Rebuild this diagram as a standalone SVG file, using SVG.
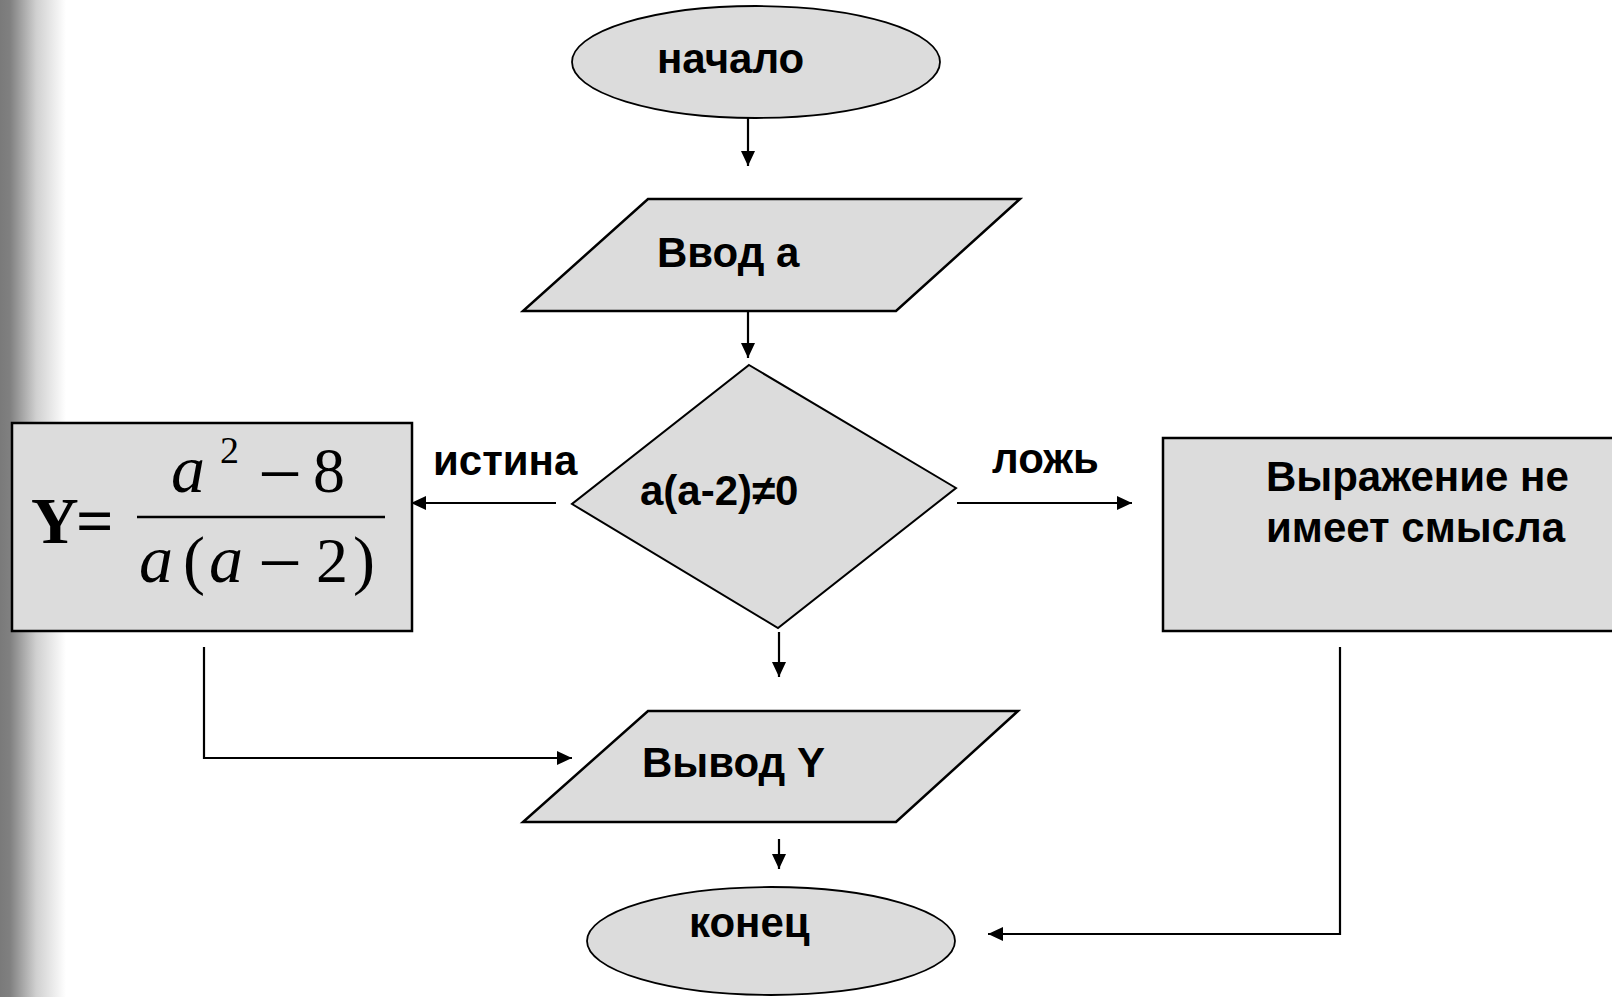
<svg xmlns="http://www.w3.org/2000/svg" width="1612" height="997" viewBox="0 0 1612 997">
  <style>
    .shape { fill: #dcdcdc; stroke: #000; stroke-width: 2.5; }
    .oval { fill: #dcdcdc; stroke: #000; stroke-width: 1.8; }
    .label { font-family: "Liberation Sans", Arial, sans-serif; font-weight: bold; font-size: 42px; fill: #000; }
    .math { font-family: "Liberation Serif", "Times New Roman", serif; fill: #000; }
    .wire { fill: none; stroke: #000; stroke-width: 2.2; }
  </style>
  <defs>
    <linearGradient id="edge" x1="0" y1="0" x2="1" y2="0">
      <stop offset="0" stop-color="#7a7a7a"/>
      <stop offset="0.15" stop-color="#808080"/>
      <stop offset="0.55" stop-color="#d0d0d0"/>
      <stop offset="1" stop-color="#ffffff"/>
    </linearGradient>
    <marker id="head" markerUnits="userSpaceOnUse" markerWidth="16" markerHeight="16" refX="15" refY="8" orient="auto">
      <path d="M0,1 L15,8 L0,15 Z" fill="#000"/>
    </marker>
  </defs>

  <!-- page background with shaded left edge -->
  <rect x="0" y="0" width="1612" height="997" fill="#fff"/>
  <rect x="0" y="0" width="66" height="997" fill="url(#edge)"/>

  <!-- connectors -->
  <g id="connectors">
    <line class="wire" x1="748" y1="118" x2="748" y2="166" marker-end="url(#head)"/>
    <line class="wire" x1="748" y1="311" x2="748" y2="358" marker-end="url(#head)"/>
    <line class="wire" x1="556" y1="503" x2="411" y2="503" marker-end="url(#head)"/>
    <line class="wire" x1="957" y1="503" x2="1132" y2="503" marker-end="url(#head)"/>
    <line class="wire" x1="779" y1="632" x2="779" y2="677" marker-end="url(#head)"/>
    <polyline class="wire" points="204,647 204,758 572,758" marker-end="url(#head)"/>
    <line class="wire" x1="779" y1="839" x2="779" y2="869" marker-end="url(#head)"/>
    <polyline class="wire" points="1340,647 1340,934 988,934" marker-end="url(#head)"/>
    <text class="label" x="433" y="475">истина</text>
    <text class="label" x="992" y="473">ложь</text>
  </g>

  <g id="start">
    <ellipse class="oval" cx="756" cy="62" rx="184" ry="56"/>
    <text class="label" x="657" y="73">начало</text>
  </g>

  <g id="input">
    <polygon class="shape" points="648,199 1020,199 896,311 523,311"/>
    <text class="label" x="657" y="267">Ввод а</text>
  </g>

  <g id="decision">
    <polygon class="shape" points="749,365 956,488 778,628 572,504" style="stroke-width:2"/>
    <text class="label" x="640" y="505">a(a-2)≠0</text>
  </g>

  <g id="compute">
    <rect class="shape" x="12" y="423" width="400" height="208"/>
    <text class="math" x="31" y="543" font-size="66" font-weight="bold">Y</text>
    <text class="math" x="76" y="543" font-size="66" font-weight="bold">=</text>
    <line x1="137" y1="517" x2="385" y2="517" stroke="#000" stroke-width="2.5"/>
    <text class="math" x="171" y="492" font-size="68" font-style="italic">a</text>
    <text class="math" x="220" y="463" font-size="38">2</text>
    <text class="math" x="258" y="500" font-size="78">−</text>
    <text class="math" x="313" y="492" font-size="64">8</text>
    <text class="math" x="139" y="582" font-size="68" font-style="italic">a</text>
    <text class="math" x="183" y="582" font-size="66">(</text>
    <text class="math" x="209" y="582" font-size="68" font-style="italic">a</text>
    <text class="math" x="258" y="589" font-size="78">−</text>
    <text class="math" x="316" y="582" font-size="64">2</text>
    <text class="math" x="353" y="582" font-size="66">)</text>
  </g>

  <g id="error">
    <rect class="shape" x="1163" y="438" width="460" height="193"/>
    <text class="label" x="1266" y="491">Выражение не</text>
    <text class="label" x="1266" y="542">имеет смысла</text>
  </g>

  <g id="output">
    <polygon class="shape" points="648,711 1018,711 896,822 523,822"/>
    <text class="label" x="642" y="777">Вывод Y</text>
  </g>

  <g id="end">
    <ellipse class="oval" cx="771" cy="941" rx="184" ry="54"/>
    <text class="label" x="689" y="937">конец</text>
  </g>
</svg>
